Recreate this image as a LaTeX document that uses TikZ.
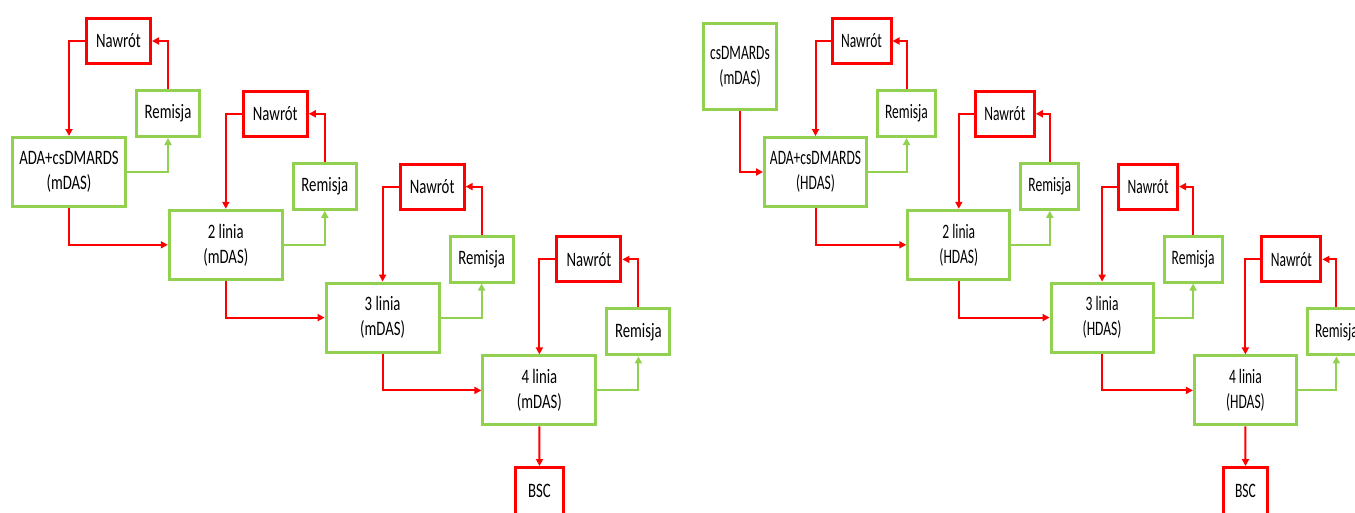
\documentclass[tikz,border=0pt]{standalone}
\usepackage{fontspec}
\setmainfont{Carlito}
\newfontfamily\leftfont[FakeStretch=0.72]{Carlito}
\newfontfamily\rightfont[FakeStretch=0.66]{Carlito}
\usetikzlibrary{arrows.meta}
\definecolor{boxred}{RGB}{255,0,0}
\definecolor{boxgreen}{RGB}{146,208,80}
\tikzset{
  box/.style={draw, line width=3pt, inner sep=0pt, align=center},
  redbox/.style={box, draw=boxred},
  greenbox/.style={box, draw=boxgreen},
  lft/.style={font=\leftfont\fontsize{20.5}{25}\selectfont},
  rgt/.style={font=\rightfont\fontsize{20.5}{25}\selectfont},
  redarrow/.style={draw=boxred, line width=2pt, -{Triangle[length=7pt,width=7pt]}},
  greenarrow/.style={draw=boxgreen, line width=2pt, -{Triangle[length=7pt,width=7pt]}}
}
\begin{document}
\begin{tikzpicture}[x=1pt,y=-1pt]
\useasboundingbox (0,0) rectangle (1355,512);
\clip (0,0) rectangle (1355,512);
% ---------- left diagram ----------
\foreach \i/\t in {1/{ADA+csDMARDS},2/{2 linia},3/{3 linia},4/{4 linia}}{
  \pgfmathsetmacro\cx{69+156.8*(\i-1)}
  \pgfmathsetmacro\cy{172+72.8*(\i-1)}
  \node[greenbox, lft, minimum width=113pt, minimum height=69pt] (LM\i) at (\cx,\cy) {\t\\(mDAS)};
  \node[redbox, lft, minimum width=64pt, minimum height=45pt] (LN\i) at (\cx+49.5,\cy-131) {Nawrót};
  \node[greenbox, lft, minimum width=63pt, minimum height=46pt] (LR\i) at (\cx+99,\cy-58.5) {Remisja};
  \draw[redarrow] (LN\i.west) -| (LM\i.north);
  \draw[redarrow] (LR\i.north) |- (LN\i.east);
  \draw[greenarrow] (LM\i.east) -| (LR\i.south);
}
\foreach \i/\j in {1/2,2/3,3/4}{
  \draw[redarrow] (LM\i.south) |- (LM\j.west);
}
\node[redbox, lft, minimum width=48pt, minimum height=47pt] (LB) at (539.5,491) {BSC};
\draw[redarrow] (LM4.south) -- (LB.north);
% ---------- right diagram ----------
\node[greenbox, rgt, minimum width=73pt, minimum height=86pt] (RC) at (740,66.5) {csDMARDs\\(mDAS)};
\foreach \i/\t in {1/{ADA+csDMARDS},2/{2 linia},3/{3 linia},4/{4 linia}}{
  \pgfmathsetmacro\cx{815.5+143.3*(\i-1)}
  \pgfmathsetmacro\cy{172+72.8*(\i-1)}
  \node[greenbox, rgt, minimum width=102pt, minimum height=69pt] (RM\i) at (\cx,\cy) {\t\\(HDAS)};
  \node[redbox, rgt, minimum width=59pt, minimum height=45pt] (RN\i) at (\cx+46,\cy-131) {Nawrót};
  \node[greenbox, rgt, minimum width=58pt, minimum height=46pt] (RR\i) at (\cx+91,\cy-58.5) {Remisja};
  \draw[redarrow] (RN\i.west) -| (RM\i.north);
  \draw[redarrow] (RR\i.north) |- (RN\i.east);
  \draw[greenarrow] (RM\i.east) -| (RR\i.south);
}
\foreach \i/\j in {1/2,2/3,3/4}{
  \draw[redarrow] (RM\i.south) |- (RM\j.west);
}
\draw[redarrow] (RC.south) |- (RM1.west);
\node[redbox, rgt, minimum width=44pt, minimum height=47pt] (RB) at (1245.5,491) {BSC};
\draw[redarrow] (RM4.south) -- (RB.north);
\end{tikzpicture}
\end{document}
